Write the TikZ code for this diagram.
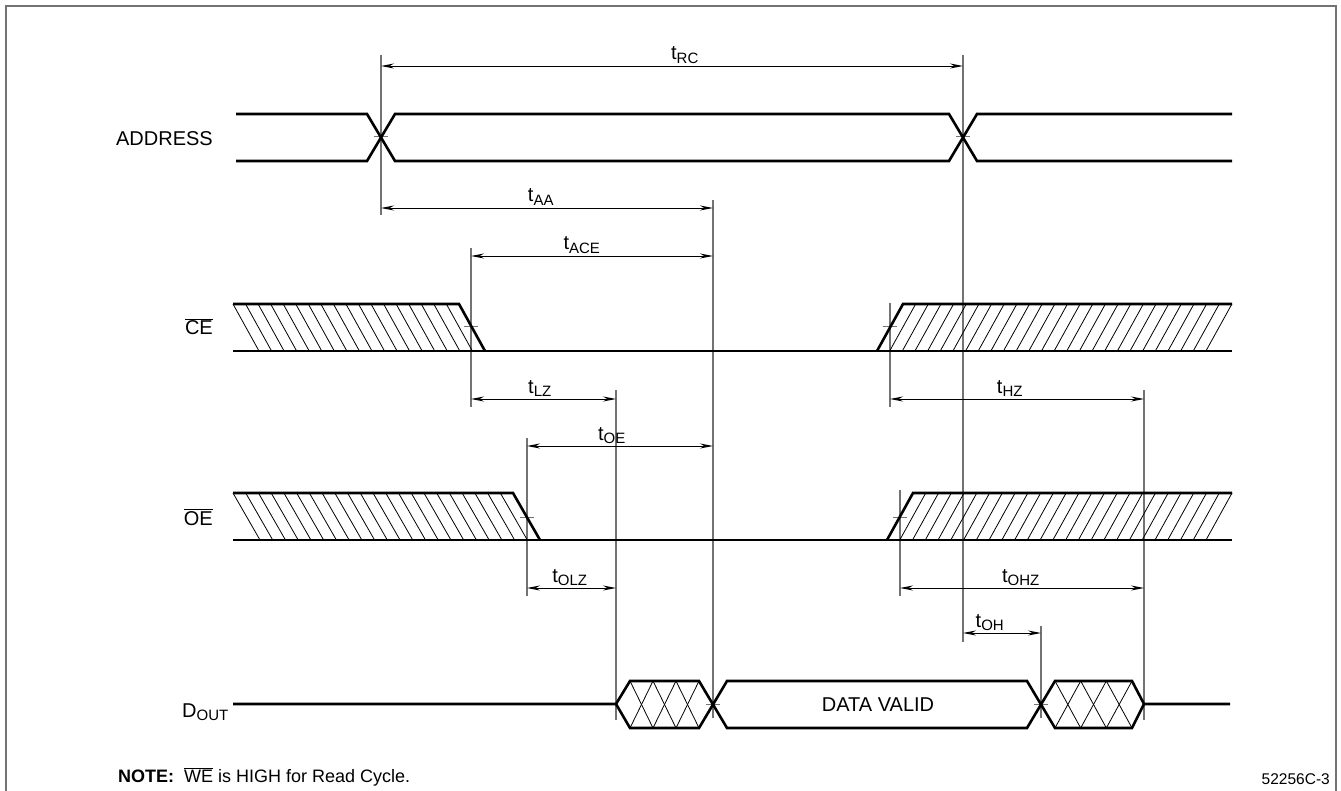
\documentclass[tikz,border=0pt]{standalone}
\usepackage{fontspec}
\setmainfont{Liberation Sans}
\usetikzlibrary{arrows.meta}
\newcommand{\subtxt}[1]{\textsubscript{\fontsize{15}{15}\selectfont #1}}
\newcommand{\tsig}[1]{t\subtxt{#1}}
\newcommand{\ovl}[1]{$\overline{\mbox{#1}}$}
\begin{document}
\begin{tikzpicture}[x=1pt,y=-1pt,>={Stealth[length=13pt,width=5pt]},font=\fontsize{20}{24}\selectfont,
	every node/.style={inner sep=0pt},
	sig/.style={line width=2.6pt,line join=miter},
	guide/.style={line width=1.3pt,black!55},
	dim/.style={<->,line width=0.9pt},
	hatch/.style={line width=0.8pt}]
	\useasboundingbox (0,0) rectangle (1341,791);
	\draw[line width=2.4pt,black!55] (6,791) -- (6,6) -- (1336,6) -- (1336,791);
	% guide lines
	\draw[guide] (381,55) -- (381,215);
	\draw[guide] (963,55) -- (963,642);
	\draw[guide] (713,200) -- (713,718);
	\draw[guide] (471,248) -- (471,407);
	\draw[guide] (616,390) -- (616,720);
	\draw[guide] (527,438) -- (527,596);
	\draw[guide] (890,303) -- (890,407);
	\draw[guide] (900,490) -- (900,596);
	\draw[guide] (1144,390) -- (1144,720);
	\draw[guide] (1041,626) -- (1041,718);
	\foreach \x/\y in {381/137,963/137,471/327,890/327,527/517,900/517,713/704,1041/704}
		\draw[guide,line width=1pt] ({\x-7},\y) -- ({\x+7},\y);
	% timing parameters
	\draw[dim] (381,66) -- (963,66);
	\node[anchor=base] (trc) at (685,60) {\tsig{RC}};
	\draw[dim] (381,208) -- (713,208);
	\node[anchor=base] (taa) at (541,202) {\tsig{AA}};
	\draw[dim] (471,256) -- (713,256);
	\node[anchor=base] (tace) at (582,250) {\tsig{ACE}};
	\draw[dim] (471,399) -- (616,399);
	\node[anchor=base] (tlz) at (540,393) {\tsig{LZ}};
	\draw[dim] (527,446) -- (713,446);
	\node[anchor=base] (toe) at (612,440) {\tsig{OE}};
	\draw[dim] (527,588) -- (616,588);
	\node[anchor=base] (tolz) at (570,582) {\tsig{OLZ}};
	\draw[dim] (890,399) -- (1144,399);
	\node[anchor=base] (thz) at (1010,393) {\tsig{HZ}};
	\draw[dim] (900,588) -- (1144,588);
	\node[anchor=base] (tohz) at (1021,582) {\tsig{OHZ}};
	\draw[dim] (963,633) -- (1041,633);
	\node[anchor=base] (toh) at (990,627) {\tsig{OH}};
	% ADDRESS
	\draw[sig] (236,114) -- (367,114) -- (395,161) -- (949,161) -- (977,114) -- (1232,114);
	\draw[sig] (236,161) -- (367,161) -- (395,114) -- (949,114) -- (977,161) -- (1232,161);
	% CE
	\foreach \i in {0,...,17} \draw[hatch] ({233+\i*12.55},304) -- ++(26,47);
	\foreach \i in {1,...,26} \draw[hatch] ({903+\i*12.65},304) -- ++(-26,47);
	\draw[sig] (233,304) -- (459,304) -- (485,351);
	\draw[sig] (233,351) -- (1232,351);
	\draw[sig] (877,351) -- (903,304) -- (1232,304);
	% OE
	\foreach \i in {0,...,21} \draw[hatch] ({233+\i*12.73},493) -- ++(27,47);
	\foreach \i in {1,...,25} \draw[hatch] ({913+\i*12.76},493) -- ++(-26,47);
	\draw[sig] (233,493) -- (513,493) -- (540,540);
	\draw[sig] (233,540) -- (1232,540);
	\draw[sig] (887,540) -- (913,493) -- (1232,493);
	% DOUT
	\foreach \a in {630,653,676} {
		\draw[hatch] (\a,681) -- ++(23,47);
		\draw[hatch] (\a,728) -- ++(23,-47);
	}
	\foreach \a in {1055,1080.67,1106.33} {
		\draw[hatch] (\a,681) -- ++(25.67,47);
		\draw[hatch] (\a,728) -- ++(25.67,-47);
	}
	\draw[sig] (233,704) -- (616,704) -- (630,681) -- (699,681) -- (727,728) -- (1027,728) -- (1055,681) -- (1132,681) -- (1144,704) -- (1230,704);
	\draw[sig] (616,704) -- (630,728) -- (699,728) -- (727,681) -- (1027,681) -- (1055,728) -- (1132,728) -- (1144,704);
	% signal names
	\node[anchor=base east] (addr) at (213,146) {ADDRESS};
	\node[anchor=base east] (ce) at (213,335) {\ovl{CE}};
	\node[anchor=base east] (oe) at (213,525) {\ovl{OE}};
	\node[anchor=base east] (dout) at (229,717) {D\subtxt{OUT}};
	\node[anchor=base] (valid) at (878,711) {DATA VALID};
	\node[anchor=base west,font=\fontsize{18}{22}\selectfont] (note) at (118,782) {\textbf{NOTE:}\ \ \ovl{WE} is HIGH for Read Cycle.};
	\node[anchor=base east,font=\fontsize{15.5}{18}\selectfont] (tag) at (1330,784) {52256C-3};
\end{tikzpicture}
\end{document}
